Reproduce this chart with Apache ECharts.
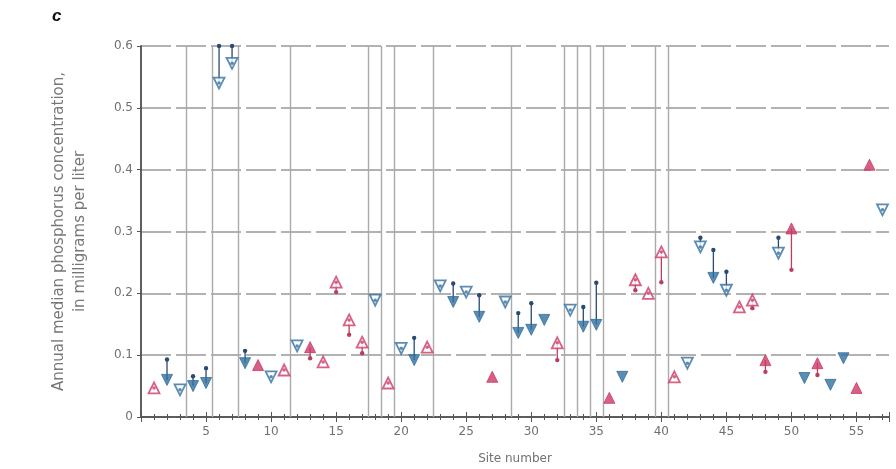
<!DOCTYPE html>
<html>
<head>
<meta charset="utf-8">
<script src="https://cdn.jsdelivr.net/npm/echarts@6/dist/echarts.min.js"></script>
<style>
  html, body { margin: 0; padding: 0; background: #fff; }
  #chart { width: 896px; height: 469px; }
</style>
</head>
<body>
<div id="chart"></div>
<script>
// site numbers on the x axis
const sites = [1, 2, 3, 4, 5, 6, 7, 8, 9, 10, 11, 12, 13, 14, 15, 16, 17, 18, 19, 20,
  21, 22, 23, 24, 25, 26, 27, 28, 29, 30, 31, 32, 33, 34, 35, 36, 37, 38, 39, 40,
  41, 42, 43, 44, 45, 46, 47, 48, 49, 50, 51, 52, 53, 54, 55, 56, 57]

// triangle value (later median), mg/L
const endValues = [0.047, 0.060, 0.044, 0.050, 0.055, 0.540, 0.572, 0.087, 0.084, 0.065,
  0.076, 0.115, 0.113, 0.089, 0.218, 0.157, 0.121, 0.189, 0.055, 0.111,
  0.092, 0.113, 0.212, 0.186, 0.202, 0.162, 0.065, 0.186, 0.136, 0.141,
  0.157, 0.120, 0.173, 0.146, 0.149, 0.031, 0.065, 0.222, 0.200, 0.267,
  0.065, 0.087, 0.275, 0.225, 0.205, 0.178, 0.189, 0.092, 0.265, 0.305,
  0.063, 0.087, 0.052, 0.095, 0.047, 0.408, 0.335]

// dot value (earlier median), null where no stem is drawn
const startValues = [null, 0.093, null, 0.066, 0.079, 0.600, 0.600, 0.107, null, null,
  null, null, 0.095, null, 0.202, 0.133, 0.103, null, null, null,
  0.128, null, null, 0.216, null, 0.197, null, null, 0.168, 0.184,
  null, 0.092, null, 0.178, 0.217, null, null, 0.205, null, 0.218,
  null, null, 0.290, 0.270, 0.235, null, 0.176, 0.073, 0.290, 0.238,
  null, 0.068, null, null, null, null, null]

// 'u' = upward (red), 'd' = downward (blue)
const trend = ['u', 'd', 'd', 'd', 'd', 'd', 'd', 'd', 'u', 'd',
  'u', 'd', 'u', 'u', 'u', 'u', 'u', 'd', 'u', 'd',
  'd', 'u', 'd', 'd', 'd', 'd', 'u', 'd', 'd', 'd',
  'd', 'u', 'd', 'd', 'd', 'u', 'd', 'u', 'u', 'u',
  'u', 'd', 'd', 'd', 'd', 'u', 'u', 'u', 'd', 'u',
  'd', 'u', 'd', 'd', 'u', 'u', 'd']

// 1 = filled symbol, 0 = open symbol
const filled = [0, 1, 0, 1, 1, 0, 0, 1, 1, 0,
  0, 0, 1, 0, 0, 0, 0, 0, 0, 0,
  1, 0, 0, 1, 0, 1, 1, 0, 1, 1,
  1, 0, 0, 1, 1, 1, 1, 0, 0, 0,
  0, 0, 0, 1, 0, 0, 0, 1, 0, 1,
  1, 1, 1, 1, 1, 1, 0]

// grey vertical separators between site groups
const dividers = [3.5, 5.5, 7.5, 11.5, 17.5, 18.5, 19.5, 22.5, 28.5, 32.5, 33.5, 34.5, 35.5, 39.5, 40.5]

const RED = '#cc3a66'
const RED_LINE = '#b8405f'
const BLUE = '#326f9f'
const BLUE_LINE = '#2a4a70'
const FONT = '"DejaVu Sans", sans-serif'

const chart = echarts.init(document.getElementById('chart'))

function pick(dir, fill) {
  const out = []
  sites.forEach((s, i) => {
    if (trend[i] === dir && filled[i] === fill) out.push([s, endValues[i]])
  })
  return out
}

const stems = []
sites.forEach((s, i) => {
  if (startValues[i] !== null) stems.push([s, startValues[i], endValues[i]])
})

function markerSeries(dir, fill) {
  const col = dir === 'u' ? RED : BLUE
  return {
    type: 'scatter',
    data: pick(dir, fill),
    symbol: 'triangle',
    symbolSize: 11,
    symbolRotate: dir === 'u' ? 0 : 180,
    z: 5,
    itemStyle: fill
      ? { color: col, borderColor: col, borderWidth: 1 }
      : { color: '#ffffff', borderColor: col, borderWidth: 1.8 }
  }
}

function innerDots(dir) {
  return {
    type: 'scatter',
    data: pick(dir, 0),
    symbol: 'circle',
    symbolSize: 3.5,
    z: 6,
    itemStyle: { color: dir === 'u' ? RED : BLUE }
  }
}

const labelFont = { color: '#707070', fontFamily: FONT, fontSize: 12 }

const option = {
  animation: false,
  backgroundColor: '#fff',
  title: {
    text: 'c',
    left: 47,
    top: 3,
    textStyle: { fontSize: 17, fontStyle: 'italic', fontWeight: 'bold', color: '#111', fontFamily: 'Liberation Sans, sans-serif' }
  },
  grid: { left: 141, right: 7, top: 46, bottom: 52, outerBoundsMode: 'none' },
  xAxis: [
    {
      type: 'value',
      min: 0,
      max: 57.5,
      interval: 5,
      position: 'bottom',
      name: 'Site number',
      nameLocation: 'middle',
      nameGap: 36,
      nameTextStyle: { color: '#707070', fontFamily: FONT, fontSize: 12 },
      axisLine: { lineStyle: { color: '#555', width: 1.5 } },
      axisTick: { inside: true, length: 5, lineStyle: { color: '#555' } },
      minorTick: { show: true, splitNumber: 5, length: 3, lineStyle: { color: '#555' } },
      axisLabel: Object.assign({ formatter: v => (v === 0 ? '' : v), showMaxLabel: false, margin: 9 }, labelFont),
      splitLine: { show: false }
    },
    {
      type: 'value',
      min: 0,
      max: 57.5,
      interval: 5,
      position: 'top',
      axisLine: { lineStyle: { color: '#555', width: 1.5 } },
      axisTick: { inside: true, length: 5, lineStyle: { color: '#555' } },
      minorTick: { show: true, splitNumber: 5, length: 3, lineStyle: { color: '#555' } },
      axisLabel: { show: false },
      splitLine: { show: false }
    }
  ],
  yAxis: [
    {
      type: 'value',
      min: 0,
      max: 0.6,
      interval: 0.1,
      name: 'Annual median phosphorus concentration,\nin milligrams per liter',
      nameLocation: 'middle',
      nameGap: 50,
      nameTextStyle: { color: '#777', fontFamily: FONT, fontSize: 15, lineHeight: 21 },
      axisLine: { show: true, lineStyle: { color: '#555', width: 1.5 } },
      axisTick: { show: false },
      axisLabel: Object.assign({ formatter: v => (v === 0 ? '0' : v.toFixed(1)), margin: 8 }, labelFont),
      splitLine: { lineStyle: { color: '#999', width: 1.5, type: [30, 5] } }
    },
    {
      type: 'value',
      min: 0,
      max: 0.6,
      interval: 0.1,
      position: 'right',
      axisLine: { show: true, lineStyle: { color: '#555', width: 1.5 } },
      axisTick: { show: true, inside: true, length: 4, lineStyle: { color: '#555' } },
      axisLabel: { show: false },
      splitLine: { show: false }
    }
  ],
  series: [
    {
      type: 'scatter',
      data: [],
      z: 1,
      markLine: {
        silent: true,
        symbol: 'none',
        label: { show: false },
        lineStyle: { color: '#aaa', width: 1.4, type: 'solid' },
        data: dividers.map(d => ({ xAxis: d }))
      }
    },
    {
      type: 'custom',
      z: 4,
      data: stems,
      renderItem: (params, api) => {
        const x = api.value(0)
        const s = api.value(1)
        const e = api.value(2)
        const p1 = api.coord([x, s])
        const p2 = api.coord([x, e])
        const col = s < e ? RED_LINE : BLUE_LINE
        return {
          type: 'group',
          children: [
            { type: 'line', shape: { x1: p1[0], y1: p1[1], x2: p2[0], y2: p2[1] }, style: { stroke: col, lineWidth: 1.3 } },
            { type: 'circle', shape: { cx: p1[0], cy: p1[1], r: 2.2 }, style: { fill: col } }
          ]
        }
      }
    },
    markerSeries('u', 1),
    markerSeries('u', 0),
    markerSeries('d', 1),
    markerSeries('d', 0),
    innerDots('u'),
    innerDots('d')
  ]
}
chart.setOption(option)
</script>
</body>
</html>
